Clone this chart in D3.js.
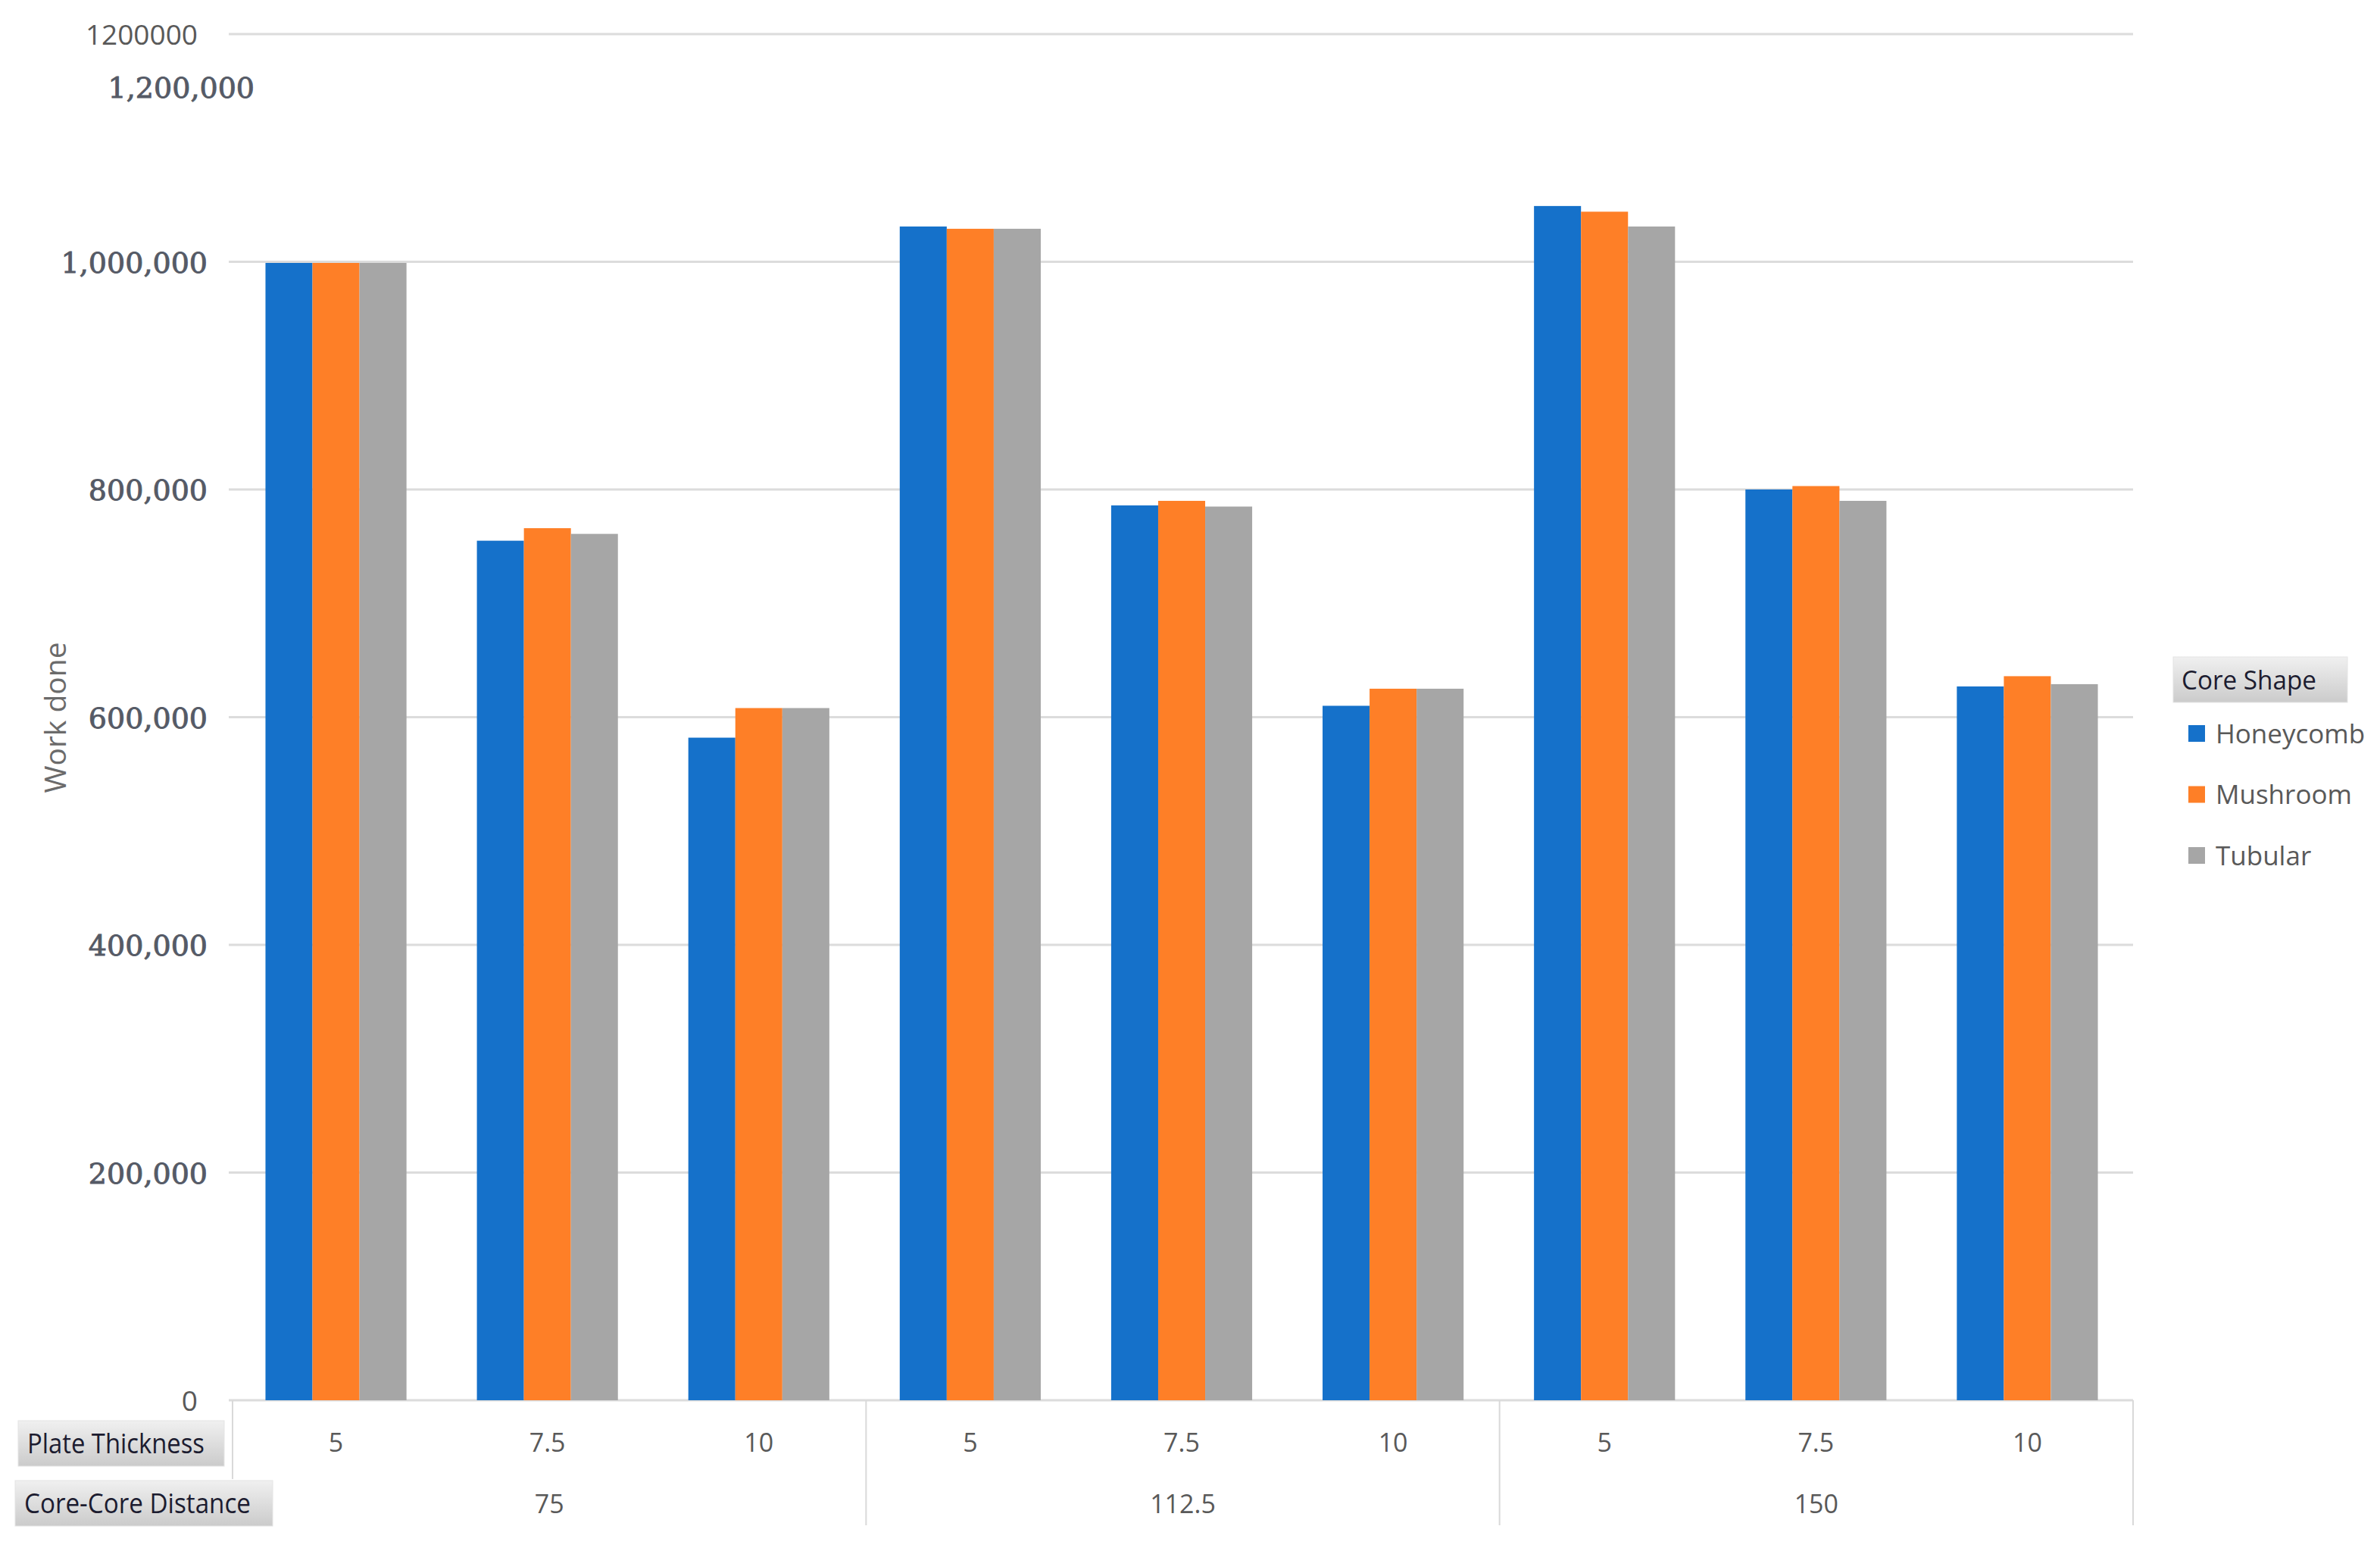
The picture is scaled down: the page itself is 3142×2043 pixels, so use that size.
<!DOCTYPE html>
<html><head><meta charset="utf-8">
<script src="https://cdn.jsdelivr.net/npm/d3@7"></script>
<style>html,body{margin:0;padding:0;background:#fff;} svg{display:block;}</style>
</head><body>
<script>
// ---- data ----
const coreDistances = ["75", "112.5", "150"];
const plateThickness = ["5", "7.5", "10"];
const seriesNames = ["Honeycomb", "Mushroom", "Tubular"];
const honeycomb = [999000, 755000, 582000, 1031000, 786000, 610000, 1049000, 800000, 627000];
const mushroom  = [999000, 766000, 608000, 1029000, 790000, 625000, 1044000, 803000, 636000];
const tubular   = [999000, 761000, 608000, 1029000, 785000, 625000, 1031000, 790000, 629000];
const yTicks = [0, 200000, 400000, 600000, 800000, 1000000, 1200000];
const yTitle = "Work done";
const legendTitle = "Core Shape";
const rowTitles = ["Plate Thickness", "Core-Core Distance"];

// ---- layout ----
const W = 3142, H = 2043;
const mLeft = 304, mRight = 2816, mTop = 45, mBottom = 1848;
const svg = d3.select("body").append("svg").attr("width", W).attr("height", H);

const defs = svg.append("defs");
const grad = defs.append("linearGradient").attr("id", "boxg").attr("x1", 0).attr("y1", 0).attr("x2", 0).attr("y2", 1);
grad.append("stop").attr("offset", "0%").attr("stop-color", "#f0f0f0");
grad.append("stop").attr("offset", "100%").attr("stop-color", "#cbcbcb");

const cats = coreDistances.flatMap(d => plateThickness.map(t => d + "|" + t));
const series = [honeycomb, mushroom, tubular];
const rows = cats.map((c, i) => ({cat: c, values: seriesNames.map((s, k) => ({key: s, value: series[k][i]}))}));

const x0 = d3.scaleBand().domain(cats).range([mLeft, mRight]).paddingInner(0.333).paddingOuter(0.1665);
const x1 = d3.scaleBand().domain(seriesNames).range([0, x0.bandwidth()]);
const y = d3.scaleLinear().domain([0, 1200000]).range([mBottom, mTop]);
const color = d3.scaleOrdinal().domain(seriesNames).range(["#1571CA", "#FE7F27", "#A6A6A6"]);

// gridlines
svg.append("g").selectAll("line").data(yTicks).join("line")
  .attr("x1", 302).attr("x2", mRight)
  .attr("y1", d => y(d)).attr("y2", d => y(d))
  .attr("stroke", "#dcdcdc").attr("stroke-width", 3);

// bars
svg.append("g").selectAll("g").data(rows).join("g")
  .attr("transform", d => `translate(${x0(d.cat)},0)`)
  .selectAll("rect").data(d => d.values).join("rect")
  .attr("x", d => x1(d.key)).attr("width", x1.bandwidth())
  .attr("y", d => y(d.value)).attr("height", d => y(0) - y(d.value))
  .attr("fill", d => color(d.key));

// y axis
const yAxis = svg.append("g").attr("transform", `translate(302,0)`)
  .call(d3.axisLeft(y).tickValues(yTicks).tickSize(0).tickPadding(28).tickFormat(d3.format(",")));
yAxis.select(".domain").remove();
yAxis.selectAll("text")
  .attr("fill", "#555a66")
  .attr("stroke", "#555a66").attr("stroke-width", 0.9)
  .style("font-family", "'DejaVu Serif', serif")
  .style("font-size", "38px")
  .attr("dy", "0.36em");
yAxis.selectAll(".tick").filter(d => d === 0 || d === 1200000).select("text")
  .text(d => String(d))
  .style("font-family", "'Open Sans', sans-serif")
  .style("font-size", "37px")
  .attr("stroke", "none")
  .attr("fill", "#595959")
  .attr("x", -41);
// duplicated formatted top label
svg.append("text").attr("x", 336).attr("y", 115).attr("dy", "0.36em")
  .attr("text-anchor", "end").attr("fill", "#555a66")
  .attr("stroke", "#555a66").attr("stroke-width", 0.9)
  .style("font-family", "'DejaVu Serif', serif").style("font-size", "38px")
  .text(d3.format(",")(yTicks[yTicks.length - 1]));

// y title
svg.append("text").attr("transform", "translate(73,947) rotate(-90)")
  .attr("text-anchor", "middle").attr("dy", "0.36em")
  .attr("fill", "#6b6b6b").style("font-family", "'Open Sans', sans-serif").style("font-size", "39px")
  .text(yTitle);

// category table
const tbl = svg.append("g");
tbl.selectAll("text.pt").data(cats).join("text").attr("class", "pt")
  .attr("x", d => x0(d) + x0.bandwidth() / 2).attr("y", 1904).attr("dy", "0.36em")
  .attr("text-anchor", "middle").attr("fill", "#595959")
  .style("font-family", "'Open Sans', sans-serif").style("font-size", "34px")
  .text(d => d.split("|")[1]);
const groupScale = d3.scaleBand().domain(coreDistances).range([mLeft + 3, mRight]);
tbl.selectAll("text.cd").data(coreDistances).join("text").attr("class", "cd")
  .attr("x", d => groupScale(d) + groupScale.bandwidth() / 2).attr("y", 1985).attr("dy", "0.36em")
  .attr("text-anchor", "middle").attr("fill", "#595959")
  .style("font-family", "'Open Sans', sans-serif").style("font-size", "34px")
  .text(d => d);
tbl.selectAll("line.sep").data(coreDistances).join("line").attr("class", "sep")
  .attr("x1", d => groupScale(d) + groupScale.bandwidth()).attr("x2", d => groupScale(d) + groupScale.bandwidth())
  .attr("y1", 1848).attr("y2", 2013).attr("stroke", "#d9d9d9").attr("stroke-width", 2);
tbl.append("line").attr("x1", 307).attr("x2", 307).attr("y1", 1848).attr("y2", 1952)
  .attr("stroke", "#d9d9d9").attr("stroke-width", 2);

// row title boxes
const boxes = [
  {t: rowTitles[0], x: 24, y: 1875, w: 272, h: 60, tl: 234},
  {t: rowTitles[1], x: 20, y: 1954, w: 340, h: 60, tl: 299}
];
const bx = svg.append("g").selectAll("g").data(boxes).join("g");
bx.append("rect").attr("x", d => d.x).attr("y", d => d.y).attr("width", d => d.w).attr("height", d => d.h)
  .attr("fill", "url(#boxg)").attr("stroke", "#e4e4e4").attr("stroke-width", 1);
bx.append("text").attr("x", d => d.x + 12).attr("y", d => d.y + d.h / 2).attr("dy", "0.36em")
  .attr("textLength", d => d.tl).attr("lengthAdjust", "spacingAndGlyphs")
  .attr("fill", "#1c1c30").style("font-family", "'Open Sans', sans-serif").style("font-size", "37px")
  .text(d => d.t);

// legend
const lg = svg.append("g");
lg.append("rect").attr("x", 2869).attr("y", 867).attr("width", 230).attr("height", 60).attr("fill", "url(#boxg)")
  .attr("stroke", "#e4e4e4");
lg.append("text").attr("x", 2880).attr("y", 897).attr("dy", "0.36em")
  .attr("fill", "#1c1c30").style("font-family", "'Open Sans', sans-serif").style("font-size", "35px")
  .attr("textLength", 178).attr("lengthAdjust", "spacingAndGlyphs")
  .text(legendTitle);
const li = lg.selectAll("g.item").data(seriesNames).join("g").attr("class", "item")
  .attr("transform", (d, i) => `translate(2889,${968 + i * 80.5})`);
li.append("rect").attr("x", 0).attr("y", -11).attr("width", 22).attr("height", 22).attr("fill", d => color(d));
li.append("text").attr("x", 36).attr("y", 0).attr("dy", "0.36em")
  .attr("fill", "#595959").style("font-family", "'Open Sans', sans-serif").style("font-size", "35px")
  .text(d => d);
</script>
</body></html>
